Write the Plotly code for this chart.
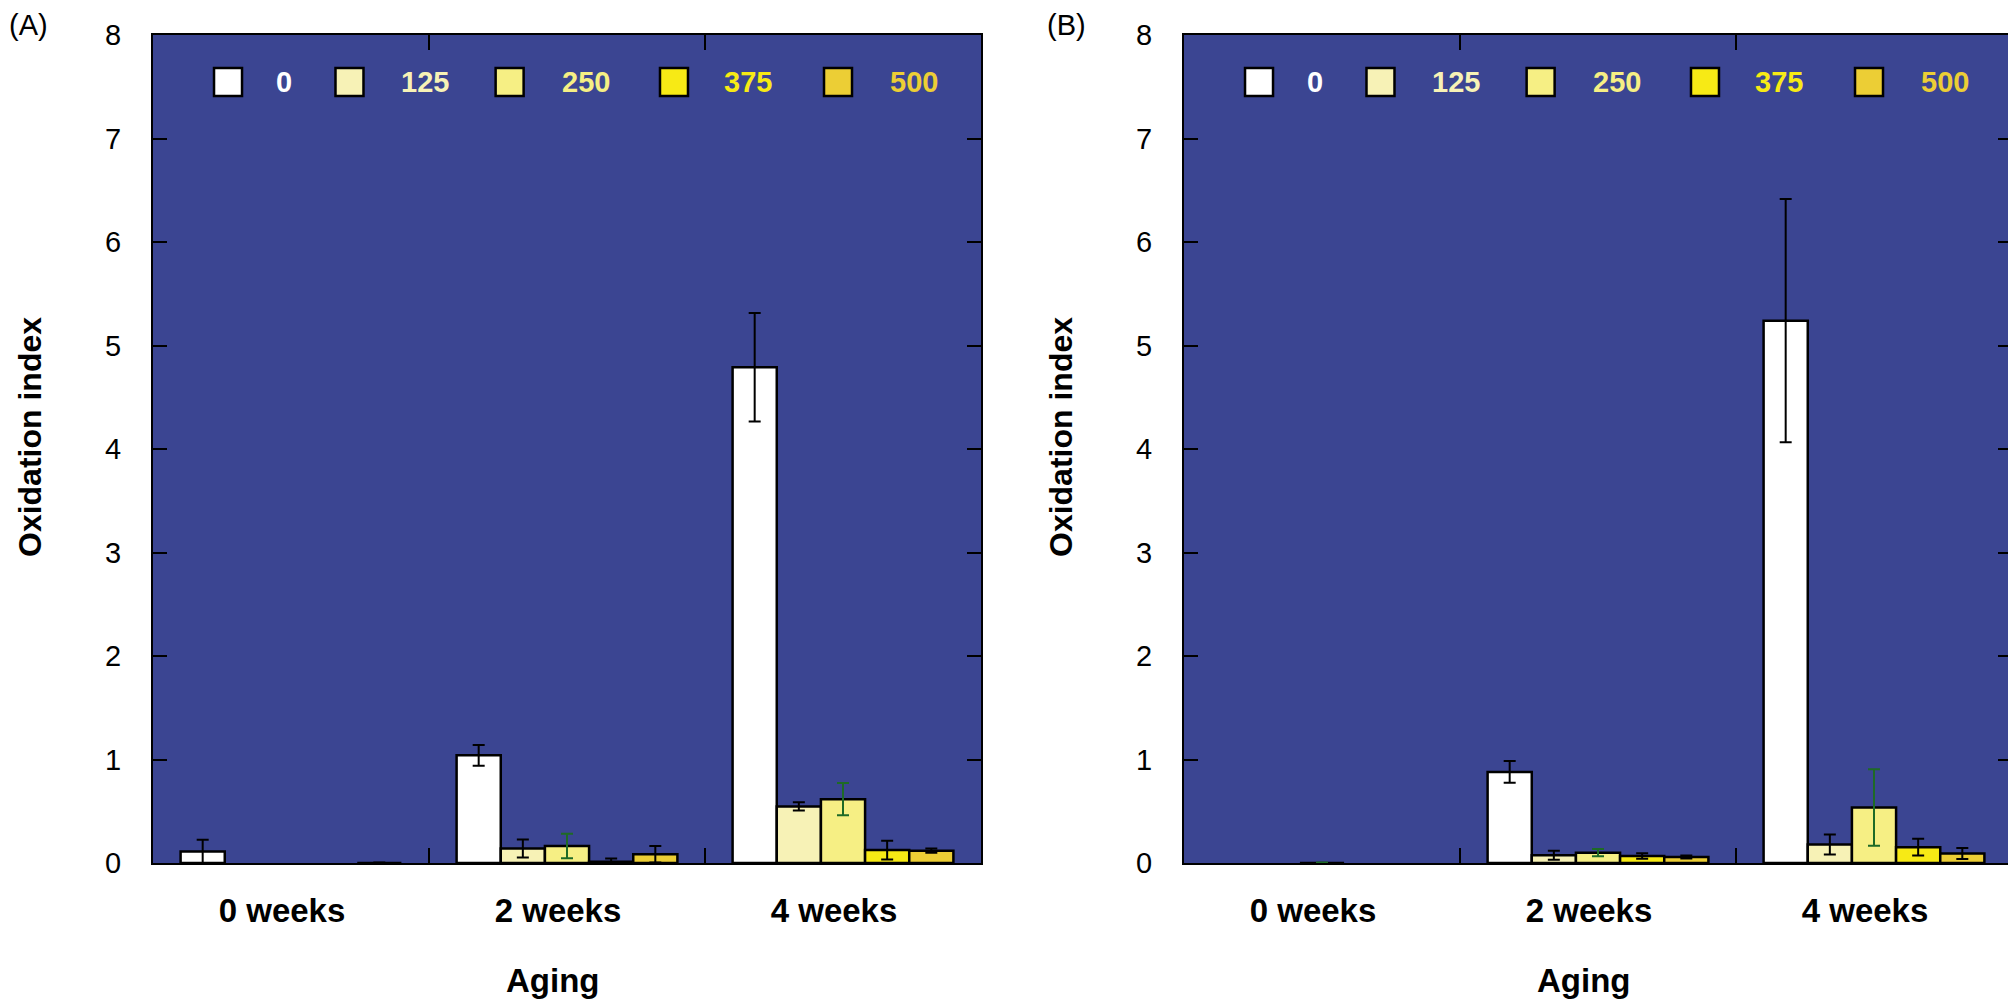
import plotly.graph_objects as go

# ---------------- data ----------------
CATEGORIES = ["0 weeks", "2 weeks", "4 weeks"]
SERIES = ["0", "125", "250", "375", "500"]
COLORS = ["#ffffff", "#f7f2b6", "#f6ef84", "#f7ea15", "#ecce35"]
ERR_COLORS = ["#000000", "#000000", "#1e6a26", "#000000", "#000000"]

# Panel A values / errors
a_0 = [0.11, 1.04, 4.79]
a_125 = [None, 0.14, 0.547]
a_250 = [None, 0.164, 0.617]
a_375 = [None, 0.013, 0.125]
a_500 = [0.0, 0.084, 0.119]
a_0_err = [0.115, 0.10, 0.525]
a_125_err = [None, 0.087, 0.04]
a_250_err = [None, 0.118, 0.155]
a_375_err = [None, 0.03, 0.09]
a_500_err = [0.005, 0.08, 0.02]

# Panel B values / errors
b_0 = [None, 0.88, 5.24]
b_125 = [None, 0.075, 0.179]
b_250 = [0.0, 0.10, 0.536]
b_375 = [None, 0.068, 0.153]
b_500 = [None, 0.058, 0.091]
b_0_err = [None, 0.105, 1.175]
b_125_err = [None, 0.044, 0.097]
b_250_err = [0.005, 0.035, 0.37]
b_375_err = [None, 0.026, 0.081]
b_500_err = [None, 0.015, 0.053]

Y_TICKS = [0, 1, 2, 3, 4, 5, 6, 7, 8]

panel_a = [(a_0, a_0_err), (a_125, a_125_err), (a_250, a_250_err), (a_375, a_375_err), (a_500, a_500_err)]
panel_b = [(b_0, b_0_err), (b_125, b_125_err), (b_250, b_250_err), (b_375, b_375_err), (b_500, b_500_err)]

W, H = 2016, 1008
BG = "#3b4592"
FONT = "Liberation Sans, Arial, Helvetica, sans-serif"

fig = go.Figure()

for axis_suffix, panel in (("", panel_a), ("2", panel_b)):
    for i, (vals, errs) in enumerate(panel):
        fig.add_trace(go.Bar(
            x=CATEGORIES, y=vals, name=SERIES[i],
            xaxis="x" + axis_suffix, yaxis="y" + axis_suffix,
            offsetgroup=str(i),
            marker=dict(color=COLORS[i], line=dict(color="black", width=2.5)),
            error_y=dict(type="data", array=errs, visible=True,
                         color=ERR_COLORS[i], thickness=2, width=6),
            showlegend=False,
        ))

# geometry (pixels, figure coordinates; page body adds ~8px offset)
OFF = 8
A_L, A_R = 153 - OFF, 981 - OFF
B_L, B_R = 1184 - OFF, 2012 - OFF
P_T, P_B = 35 - OFF, 863 - OFF

xdomA = [A_L / W, A_R / W]
xdomB = [B_L / W, B_R / W]
ydom = [1 - P_B / H, 1 - P_T / H]

def xaxis_cfg(domain, anchor):
    return dict(
        domain=domain, anchor=anchor, type="category", automargin=False,
        categoryorder="array", categoryarray=CATEGORIES,
        showline=True, linecolor="black", linewidth=2, mirror="ticks",
        ticks="inside", ticklen=15, tickwidth=2, tickcolor="black",
        tickson="boundaries", showgrid=False, zeroline=False,
        tickfont=dict(family=FONT, size=33, color="black", weight="bold"),
        ticklabelstandoff=17, ticklabelshift=-9,
    )

def yaxis_cfg(domain, anchor):
    return dict(
        domain=domain, anchor=anchor, range=[0, 8], automargin=False,
        tickvals=Y_TICKS, ticktext=[str(v) for v in Y_TICKS],
        showline=True, linecolor="black", linewidth=2, mirror="ticks",
        ticks="inside", ticklen=14, tickwidth=2, tickcolor="black",
        showgrid=False, zeroline=False,
        tickfont=dict(family=FONT, size=29, color="black"),
        ticklabelstandoff=24,
    )

shapes = []
annotations = []

# legend (manual, inside each panel)
BOX_X = [0.0737, 0.2204, 0.4138, 0.6123, 0.8104]
TEXT_X = [0.1461, 0.2971, 0.4915, 0.6872, 0.8880]
box_w = 28 / (A_R - A_L)
box_y0 = (863 - 96) / (863 - 35)
box_y1 = (863 - 68) / (863 - 35)
text_y = (box_y0 + box_y1) / 2
for xa in ("x", "x2"):
    ya = "y" if xa == "x" else "y2"
    for i, s in enumerate(SERIES):
        shapes.append(dict(type="rect", xref=xa + " domain", yref=ya + " domain",
                           x0=BOX_X[i], x1=BOX_X[i] + box_w, y0=box_y0, y1=box_y1,
                           fillcolor=COLORS[i], line=dict(color="black", width=2.5)))
        annotations.append(dict(text=s, xref=xa + " domain", yref=ya + " domain",
                                x=TEXT_X[i], y=text_y, xanchor="left", yanchor="middle",
                                showarrow=False,
                                font=dict(family=FONT, size=29, color=COLORS[i], weight="bold")))

# panel labels
annotations.append(dict(text="(A)", xref="paper", yref="paper", x=0.0, y=1.0,
                        xanchor="left", yanchor="top", showarrow=False, borderpad=0,
                        font=dict(family=FONT, size=29, color="black")))
annotations.append(dict(text="(B)", xref="paper", yref="paper", x=(1046 - OFF) / W, y=1.0,
                        xanchor="left", yanchor="top", showarrow=False, borderpad=0,
                        font=dict(family=FONT, size=29, color="black")))

# axis titles
for left, right in ((A_L, A_R), (B_L, B_R)):
    annotations.append(dict(text="Oxidation index", xref="paper", yref="paper",
                            x=(left - 123) / W, y=1 - (437 - OFF) / H, textangle=-90,
                            xanchor="center", yanchor="middle", showarrow=False,
                            font=dict(family=FONT, size=32, color="black", weight="bold")))
    annotations.append(dict(text="Aging", xref="paper", yref="paper",
                            x=((left + right) / 2 - 15) / W, y=1 - (980 - OFF) / H,
                            xanchor="center", yanchor="middle", showarrow=False,
                            font=dict(family=FONT, size=33, color="black", weight="bold")))

fig.update_layout(
    width=W, height=H,
    margin=dict(l=0, r=0, t=0, b=0, pad=0, autoexpand=False),
    paper_bgcolor="white", plot_bgcolor=BG,
    barmode="group", bargap=0.2, bargroupgap=0,
    showlegend=False,
    xaxis=xaxis_cfg(xdomA, "y"),
    yaxis=yaxis_cfg(ydom, "x"),
    xaxis2=xaxis_cfg(xdomB, "y2"),
    yaxis2=yaxis_cfg(ydom, "x2"),
    shapes=shapes,
    annotations=annotations,
    font=dict(family=FONT),
)

fig.write_html("out.html")
